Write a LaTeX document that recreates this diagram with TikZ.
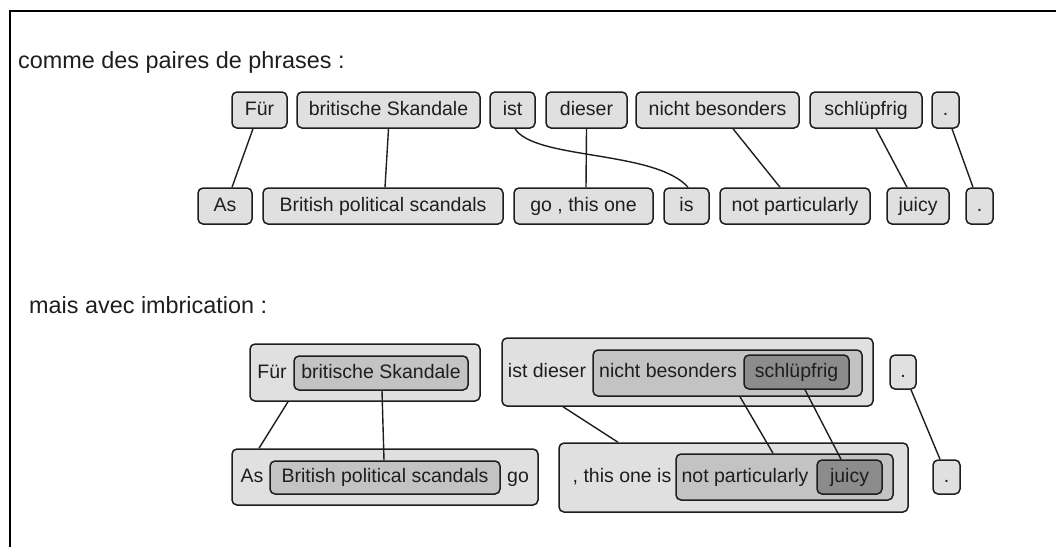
\documentclass[tikz,border=0pt]{standalone}
\usepackage{fontspec}
\setmainfont{Liberation Sans}
\definecolor{boxlight}{HTML}{E0E0E0}
\definecolor{boxmid}{HTML}{C3C3C3}
\definecolor{boxdark}{HTML}{8C8C8C}
\definecolor{ink}{HTML}{1E1E1E}
\begin{document}
\begin{tikzpicture}[x=1pt,y=-1pt,
  wordbox/.style={draw=ink, line width=1.5pt, rounded corners=5pt, fill=boxlight,
    inner sep=0pt, text=ink, font=\fontsize{19.5}{22}\selectfont,
    text height=14pt, text depth=4pt, minimum height=#1},
  wordbox/.default=36pt,
  midbox/.style={wordbox=#1, fill=boxmid},
  midbox/.default=34pt,
  darkbox/.style={wordbox=#1, fill=boxdark},
  darkbox/.default=34pt,
  plainword/.style={inner sep=0pt, text=ink, font=\fontsize{19.5}{22}\selectfont,
    text height=14pt, text depth=4pt},
  heading/.style={inner sep=0pt, anchor=west, text=ink, font=\fontsize{23.4}{26}\selectfont},
  link/.style={draw=ink, line width=1.4pt}
]
\useasboundingbox (0,0) rectangle (1056,547);

% frame
\draw[line width=1.8pt, black] (10,547) -- (10,11) -- (1056,11);

% ---------- sentence pairs ----------
\node[heading] (h1) at (18,62) {comme des paires de phrases :};

\node[wordbox, minimum width=55pt]  (d1) at (259.5,110) {Für};
\node[wordbox, minimum width=183pt] (d2) at (388.5,110) {britische Skandale};
\node[wordbox, minimum width=45pt]  (d3) at (512.5,110) {ist};
\node[wordbox, minimum width=81pt]  (d4) at (586.5,110) {dieser};
\node[wordbox, minimum width=163pt] (d5) at (717.5,110) {nicht besonders};
\node[wordbox, minimum width=112pt] (d6) at (866,110)   {schlüpfrig};
\node[wordbox, minimum width=27pt]  (d7) at (945.5,110) {.};

\node[wordbox, minimum width=54pt]  (e1) at (225,206)   {As};
\node[wordbox, minimum width=240pt] (e2) at (383,206)   {British political scandals};
\node[wordbox, minimum width=139pt] (e3) at (583.5,206) {go , this one};
\node[wordbox, minimum width=45pt]  (e4) at (686.5,206) {is};
\node[wordbox, minimum width=150pt] (e5) at (795,206)   {not particularly};
\node[wordbox, minimum width=62pt]  (e6) at (918,206)   {juicy};
\node[wordbox, minimum width=27pt]  (e7) at (979.5,206) {.};

\draw[link] ([xshift=-6.5pt]d1.south) -- ([xshift=7pt]e1.north);
\draw[link] (d2.south) -- ([xshift=2pt]e2.north);
\draw[link] ([xshift=2.5pt]d3.south) .. controls (535,160) and (655,150) .. ([xshift=1.5pt]e4.north);
\draw[link] (d4.south) -- ([xshift=2.5pt]e3.north);
\draw[link] ([xshift=15.5pt]d5.south) -- ([xshift=-15pt]e5.north);
\draw[link] ([xshift=10pt]d6.south) -- ([xshift=-11pt]e6.north);
\draw[link] ([xshift=6.5pt]d7.south) -- ([xshift=-6.5pt]e7.north);

% ---------- nested phrases ----------
\node[heading] (h2) at (29,305) {mais avec imbrication :};

% German side
\node[wordbox=57pt, minimum width=230pt] (gA) at (365,372.5) {};
\node[plainword] (gAw) at (272,373) {Für};
\node[midbox, minimum width=174pt] (gAin) at (381,373) {britische Skandale};

\node[wordbox=68pt, minimum width=371pt] (gB) at (687.5,372) {};
\node[plainword] (gBw) at (547,372) {ist dieser};
\node[midbox=46pt, minimum width=269pt] (gBm) at (727.5,373) {};
\node[plainword] (gBmw) at (668,372) {nicht besonders};
\node[darkbox, minimum width=105pt] (gBin) at (796.5,372) {schlüpfrig};

\node[wordbox=34pt, minimum width=26pt] (gC) at (903,372) {.};

% English side
\node[wordbox=56pt, minimum width=306pt] (eA) at (385,477) {};
\node[plainword] (eAw1) at (252,477) {As};
\node[midbox=33pt, minimum width=230pt] (eAin) at (385,477.5) {British political scandals};
\node[plainword] (eAw2) at (518,477) {go};

\node[wordbox=69pt, minimum width=349pt] (eB) at (733.5,477.5) {};
\node[plainword] (eBw) at (622,477) {, this one is};
\node[midbox=46pt, minimum width=217pt] (eBm) at (784.5,477) {};
\node[plainword] (eBmw) at (745,477) {not particularly};
\node[darkbox, minimum width=65pt] (eBin) at (849.5,477) {juicy};

\node[wordbox=34pt, minimum width=27pt] (eC) at (946.5,477) {.};

\draw[link] ([xshift=-77pt]gA.south) -- ([xshift=-126pt]eA.north);
\draw[link] ([xshift=1pt]gAin.south) -- ([xshift=-1pt]eAin.north);
\draw[link] ([xshift=-124.5pt]gB.south) -- ([xshift=-115.5pt]eB.north);
\draw[link] ([xshift=12.5pt]gBm.south) -- ([xshift=-11.5pt]eBm.north);
\draw[link] ([xshift=8.5pt]gBin.south) -- ([xshift=-8.5pt]eBin.north);
\draw[link] ([xshift=8pt]gC.south) -- ([xshift=-6.5pt]eC.north);
\end{tikzpicture}
\end{document}
